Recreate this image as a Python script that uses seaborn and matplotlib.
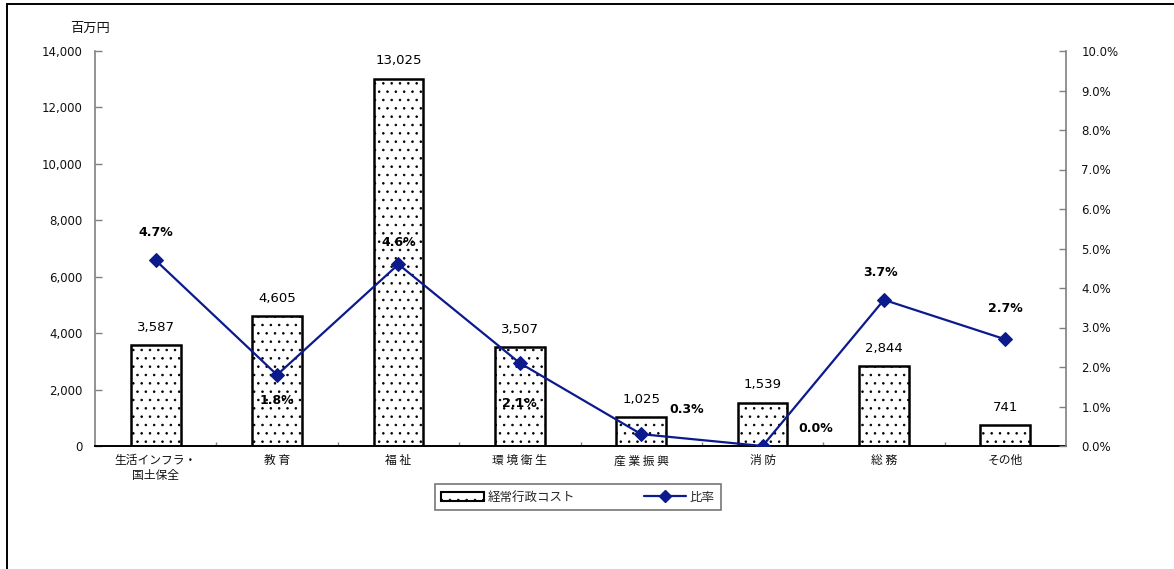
import numpy as np
import pandas as pd
import matplotlib
matplotlib.use("Agg")
import matplotlib.pyplot as plt
from matplotlib.lines import Line2D
from matplotlib.patches import Patch
from matplotlib.ticker import FuncFormatter, FixedLocator
import seaborn as sns

# --- data ---
categories = ["生活インフラ・\n国土保全", "教 育", "福 祉", "環 境 衛 生",
              "産 業 振 興", "消 防", "総 務", "その他"]
cost = [3587, 4605, 13025, 3507, 1025, 1539, 2844, 741]      # 百万円
ratio = [4.7, 1.8, 4.6, 2.1, 0.3, 0.0, 3.7, 2.7]             # %

# placement of the ratio annotations relative to their markers (pixels)
ratio_label_offsets = [(0, 28), (0, -26), (0, 22), (0, -40),
                       (46, 25), (53, 18), (-3, 27), (0, 31)]

sns.set_theme(style="white")
plt.rcParams["font.family"] = ["Noto Sans CJK JP", "DejaVu Sans"]
plt.rcParams["hatch.linewidth"] = 0.6
plt.rcParams["hatch.color"] = "#222222"

fig = plt.figure(figsize=(11.74, 5.69), dpi=100)
ax = fig.add_axes([95 / 1174, 1 - 446 / 569, (1066 - 95) / 1174, (446 - 51) / 569])

df = pd.DataFrame({"cat": categories, "cost": cost, "ratio": ratio})
sns.barplot(data=df, x="cat", y="cost", ax=ax, color="white",
            edgecolor="black", linewidth=1.8, width=0.41, hatch="..",
            saturation=1)

ax.set_xlim(-0.5, len(categories) - 0.5)
ax.set_ylim(0, 14000)
ax.set_yticks(np.arange(0, 14001, 2000))
ax.yaxis.set_major_formatter(FuncFormatter(lambda v, p: f"{int(v):,}"))
ax.set_xlabel("")
ax.set_ylabel("")
ax.tick_params(axis="y", direction="in", length=5, width=1, color="#808080",
               labelsize=8.5, pad=9, labelcolor="#111111")
ax.tick_params(axis="x", which="major", length=0, labelsize=8.5, pad=6,
               labelcolor="#111111")
ax.xaxis.set_minor_locator(FixedLocator(np.arange(0.5, len(categories) - 0.5, 1)))
ax.tick_params(axis="x", which="minor", direction="in", length=3, width=1,
               color="#808080", bottom=True)
for lbl in ax.get_yticklabels():
    lbl.set_family("DejaVu Sans")

ax.spines["top"].set_visible(False)
ax.spines["left"].set_color("#808080")
ax.spines["left"].set_linewidth(1.2)
ax.spines["right"].set_visible(False)
ax.spines["bottom"].set_color("black")
ax.spines["bottom"].set_linewidth(1.4)

for i, v in enumerate(cost):
    ax.annotate(f"{v:,}", (i, v), xytext=(0, 8), textcoords="offset points",
                ha="center", va="bottom", fontsize=9.5, family="DejaVu Sans",
                color="black")

# ratio line on secondary axis
ax2 = ax.twinx()
line_color = "#0b1a8c"
sns.lineplot(x=np.arange(len(categories)), y=ratio, ax=ax2, color=line_color,
             marker="D", markersize=7, markeredgecolor=line_color, linewidth=1.6)
ax2.set_ylim(0, 10)
ax2.set_yticks(np.arange(0, 10.01, 1))
ax2.yaxis.set_major_formatter(FuncFormatter(lambda v, p: f"{v:.1f}%"))
ax2.tick_params(axis="y", direction="in", length=5, width=1, color="#808080",
                labelsize=8.5, pad=11, labelcolor="#111111")
for lbl in ax2.get_yticklabels():
    lbl.set_family("DejaVu Sans")
for s in ["top", "left", "bottom"]:
    ax2.spines[s].set_visible(False)
ax2.spines["right"].set_color("#808080")
ax2.spines["right"].set_linewidth(1.2)

for i, (v, off) in enumerate(zip(ratio, ratio_label_offsets)):
    ax2.annotate(f"{v:.1f}%", (i, v), xytext=off, textcoords="offset pixels",
                 ha="center", va="center", fontsize=9, family="DejaVu Sans",
                 fontweight="bold", color="black")

# unit label
fig.text(90 / 1174, 1 - 28 / 569, "百万円", ha="center", va="center",
         fontsize=9.5, color="#111111")

# legend
handles = [Patch(facecolor="white", edgecolor="black", hatch="..", linewidth=1.5),
           Line2D([0], [0], color=line_color, marker="D", markersize=6, linewidth=1.6)]
leg = fig.legend(handles, ["経常行政コスト", "比率"], loc="center",
                 bbox_to_anchor=(578 / 1174, 1 - 497 / 569), ncol=2,
                 frameon=True, fancybox=False, fontsize=9, handlelength=3.4,
                 columnspacing=5.5, borderpad=0.5, handletextpad=0.3)
leg.get_frame().set_edgecolor("#555555")
leg.get_frame().set_linewidth(1.2)

# outer frame lines
fig.add_artist(Line2D([7 / 1174, 7 / 1174], [0, 1 - 4 / 569], color="black", linewidth=1.4))
fig.add_artist(Line2D([7 / 1174, 1], [1 - 4 / 569, 1 - 4 / 569], color="black", linewidth=1.4))

fig.savefig("out.png", dpi=100, facecolor="white")
